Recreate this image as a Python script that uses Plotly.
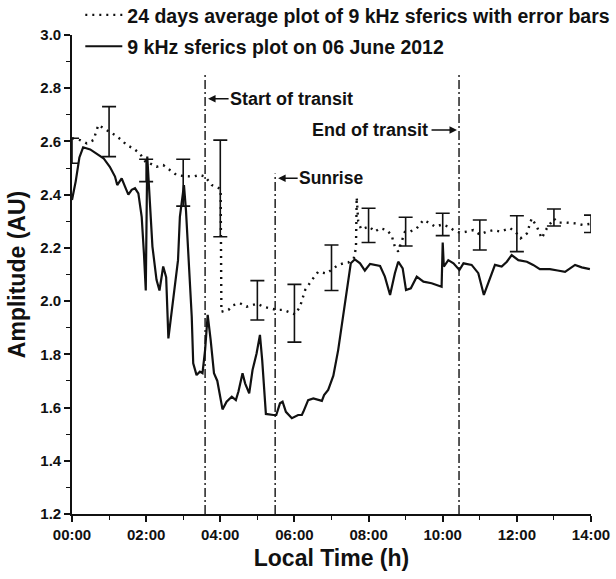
import plotly.graph_objects as go

# ---------------- data ----------------
# 9 kHz sferics on 06 June 2012 (solid line)
day_hours = [0.00, 0.10, 0.20, 0.30, 0.49, 0.67, 0.85, 1.02, 1.16, 1.22, 1.34, 1.43, 1.52, 1.61,
             1.70, 1.79, 1.88, 1.94, 1.99, 2.03, 2.085, 2.17, 2.28, 2.36, 2.46, 2.54, 2.60, 2.73,
             2.82, 2.86, 2.91, 3.02, 3.075, 3.14, 3.23, 3.27, 3.36, 3.45, 3.52, 3.59, 3.66, 3.74,
             3.83, 3.92, 3.99, 4.06, 4.17, 4.31, 4.42, 4.49, 4.60, 4.67, 4.78, 4.87, 4.98, 5.07,
             5.13, 5.18, 5.23, 5.43, 5.51, 5.61, 5.68, 5.77, 5.93, 6.10, 6.20, 6.24, 6.37, 6.51,
             6.64, 6.74, 6.80, 6.91, 6.96, 7.05, 7.18, 7.27, 7.36, 7.45, 7.52, 7.63, 7.77, 7.90,
             8.04, 8.31, 8.44, 8.58, 8.71, 8.80, 8.92, 9.01, 9.14, 9.30, 9.48, 9.70, 9.97, 10.00,
             10.03, 10.15, 10.29, 10.45, 10.56, 10.78, 10.96, 11.11, 11.28, 11.41, 11.59, 11.73,
             11.86, 12.04, 12.27, 12.44, 12.62, 12.89, 13.10, 13.30, 13.57, 13.75, 13.97]
day_amp = [2.38, 2.45, 2.54, 2.578, 2.57, 2.555, 2.537, 2.505, 2.468, 2.436, 2.461, 2.43, 2.40, 2.418,
           2.424, 2.405, 2.317, 2.18, 2.04, 2.543, 2.405, 2.205, 2.08, 2.04, 2.13, 2.09, 1.86, 2.017,
           2.105, 2.154, 2.317, 2.436, 2.34, 2.154, 1.941, 1.766, 1.722, 1.735, 1.729, 1.816, 1.948, 1.854,
           1.729, 1.70, 1.64, 1.593, 1.622, 1.641, 1.628, 1.66, 1.729, 1.691, 1.653, 1.741, 1.804, 1.873,
           1.779, 1.666, 1.576, 1.572, 1.572, 1.616, 1.622, 1.584, 1.56, 1.572, 1.572, 1.584, 1.628, 1.634,
           1.63, 1.625, 1.647, 1.666, 1.685, 1.72, 1.816, 1.904, 2.004, 2.092, 2.142, 2.157, 2.142, 2.115,
           2.14, 2.132, 2.092, 2.023, 2.105, 2.148, 2.123, 2.042, 2.048, 2.092, 2.073, 2.067, 2.054, 2.22,
           2.13, 2.154, 2.142, 2.117, 2.142, 2.136, 2.105, 2.023, 2.092, 2.136, 2.13, 2.148,
           2.173, 2.154, 2.148, 2.136, 2.12, 2.12, 2.115, 2.11, 2.136, 2.127, 2.12]

# 24 days average (dotted line)
avg_hours = [0.00, 0.22, 0.40, 0.58, 0.71, 0.85, 1.00, 1.16, 1.34, 1.47, 1.65, 1.83, 2.00, 2.10,
             2.28, 2.46, 2.64, 2.82, 3.00, 3.14, 3.27, 3.45, 3.59, 3.77, 3.90, 4.01, 4.03, 4.22,
             4.35, 4.53, 4.71, 5.00, 5.16, 5.34, 5.52, 5.70, 5.88, 6.02, 6.15, 6.29, 6.47, 6.64,
             6.87, 7.03, 7.18, 7.32, 7.45, 7.60, 7.66, 7.68, 7.72, 7.80, 8.02, 8.17, 8.31, 8.49,
             8.62, 8.71, 8.80, 8.98, 9.12, 9.30, 9.48, 9.66, 9.79, 10.00, 10.15, 10.29, 10.47, 10.65,
             10.83, 11.00, 11.19, 11.37, 11.55, 11.82, 12.00, 12.10, 12.27, 12.40, 12.54, 12.67, 12.81,
             13.00, 13.12, 13.34, 13.57, 13.79, 13.96]
avg_amp = [2.612, 2.605, 2.593, 2.605, 2.662, 2.649, 2.637, 2.624, 2.605, 2.587, 2.574, 2.555, 2.52, 2.518,
           2.505, 2.511, 2.493, 2.474, 2.47, 2.468, 2.468, 2.474, 2.468, 2.436, 2.43, 2.42, 1.96, 1.967,
           1.985, 1.992, 1.979, 1.99, 1.979, 1.973, 1.967, 1.967, 1.957, 1.95, 1.979, 2.042, 2.079, 2.11,
           2.104, 2.12, 2.136, 2.142, 2.145, 2.16, 2.20, 2.39, 2.30, 2.27, 2.28, 2.261, 2.274, 2.267,
           2.248, 2.204, 2.186, 2.26, 2.261, 2.274, 2.305, 2.292, 2.28, 2.288, 2.28, 2.267, 2.257, 2.261,
           2.267, 2.25, 2.261, 2.267, 2.261, 2.274, 2.254, 2.236, 2.254, 2.311, 2.28, 2.236, 2.274,
           2.31, 2.295, 2.295, 2.292, 2.286, 2.29]

# hourly error bars of the 24 days average
err_hours = [0, 1, 2, 3, 4, 5, 6, 7, 8, 9, 10, 11, 12, 13, 14]
err_low = [2.518, 2.543, 2.449, 2.357, 2.242, 1.929, 1.846, 2.040, 2.220, 2.207, 2.246, 2.192, 2.186, 2.282, 2.258]
err_high = [2.612, 2.731, 2.533, 2.533, 2.605, 2.077, 2.063, 2.211, 2.349, 2.315, 2.330, 2.305, 2.321, 2.346, 2.323]

# events (vertical dash-dot lines)
event_hours = [3.59, 5.48, 10.44]
event_tops = [2.86, 2.48, 2.86]
event_labels = ["Start of transit", "Sunrise", "End of transit"]
event_label_y = [2.76, 2.462, 2.643]

x_tick_vals = [0, 2, 4, 6, 8, 10, 12, 14]
x_tick_text = ["00:00", "02:00", "04:00", "06:00", "08:00", "10:00", "12:00", "14:00"]

legend_avg = "24 days average plot of 9 kHz sferics with error bars"
legend_day = "9 kHz sferics plot on 06 June 2012"

# ---------------- figure ----------------
FONT = "Liberation Sans, Arial, sans-serif"
INK = "#111111"

fig = go.Figure()

fig.add_trace(go.Scatter(
    x=avg_hours, y=avg_amp, mode="lines", name=legend_avg,
    line=dict(color=INK, width=2.4, dash="2px,5px"),
    legendgroup="a", legendrank=1,
))

err_center = [(lo + hi) / 2 for lo, hi in zip(err_low, err_high)]
fig.add_trace(go.Scatter(
    x=err_hours, y=err_center, mode="markers", showlegend=False,
    marker=dict(size=1, color="rgba(0,0,0,0)"),
    error_y=dict(type="data", symmetric=False,
                 array=[h - c for h, c in zip(err_high, err_center)],
                 arrayminus=[c - l for l, c in zip(err_low, err_center)],
                 color=INK, thickness=1.6, width=7),
    hoverinfo="skip",
))

fig.add_trace(go.Scatter(
    x=day_hours, y=day_amp, mode="lines", name=legend_day,
    line=dict(color=INK, width=2.2),
    legendgroup="b", legendrank=2,
))

for t, top in zip(event_hours, event_tops):
    fig.add_shape(type="line", xref="x", yref="y", x0=t, x1=t, y0=1.2, y1=top,
                  line=dict(color=INK, width=1.4, dash="9px,3px,2px,3px"))

ann_font = dict(family=FONT, size=18, color=INK, weight="bold")
# Start of transit (arrow pointing left)
fig.add_annotation(x=event_hours[0], y=event_label_y[0], xref="x", yref="y", text="",
                   showarrow=True, ax=22, ay=0, xshift=3, arrowhead=2, arrowsize=1,
                   arrowwidth=1.5, arrowcolor=INK)
fig.add_annotation(x=event_hours[0], y=event_label_y[0], xref="x", yref="y",
                   text=event_labels[0], showarrow=False, xanchor="left", xshift=23,
                   font=ann_font)
# Sunrise
fig.add_annotation(x=event_hours[1], y=event_label_y[1], xref="x", yref="y", text="",
                   showarrow=True, ax=21, ay=0, xshift=3, arrowhead=2, arrowsize=1,
                   arrowwidth=1.5, arrowcolor=INK)
fig.add_annotation(x=event_hours[1], y=event_label_y[1], xref="x", yref="y",
                   text=event_labels[1], showarrow=False, xanchor="left", xshift=22,
                   font=dict(family=FONT, size=17.5, color=INK, weight="bold"))
# End of transit (arrow pointing right)
fig.add_annotation(x=event_hours[2], y=event_label_y[2], xref="x", yref="y", text="",
                   showarrow=True, ax=-27, ay=0, xshift=-2, arrowhead=2, arrowsize=1,
                   arrowwidth=1.5, arrowcolor=INK)
fig.add_annotation(x=event_hours[2], y=event_label_y[2], xref="x", yref="y",
                   text=event_labels[2], showarrow=False, xanchor="right", xshift=-29,
                   font=ann_font)

axis_common = dict(
    showgrid=False, zeroline=False, showline=True, linecolor=INK, linewidth=1.6,
    ticks="outside", ticklen=6, tickwidth=1.6, tickcolor=INK,
    tickfont=dict(family=FONT, size=15, color=INK, weight="bold"),
    title_font=dict(family=FONT, size=23, color=INK, weight="bold"),
    mirror=False, automargin=False,
)

fig.update_xaxes(
    range=[0, 14], tickvals=x_tick_vals, ticktext=x_tick_text,
    title_text="Local Time (h)", title_standoff=8,
    minor=dict(dtick=1, ticklen=4, tickwidth=1.4, tickcolor=INK, ticks="outside"),
    **axis_common,
)
fig.update_yaxes(
    range=[1.2, 3.0], dtick=0.2, tick0=1.2, tickformat=".1f",
    title_text="Amplitude (AU)", title_standoff=8,
    minor=dict(dtick=0.1, ticklen=4, tickwidth=1.4, tickcolor=INK, ticks="outside"),
    **axis_common,
)

fig.update_layout(
    width=616, height=579, autosize=False,
    margin=dict(l=72, r=25, t=35, b=65, autoexpand=False),
    paper_bgcolor="white", plot_bgcolor="white",
    font=dict(family=FONT, color=INK, weight="bold"),
    showlegend=True,
    legend=dict(x=0.016, y=1.082, xanchor="left", yanchor="top",
                bgcolor="rgba(0,0,0,0)", borderwidth=0,
                font=dict(family=FONT, size=19.5, color=INK, weight="bold"),
                tracegroupgap=3, itemwidth=37, traceorder="grouped"),
)

fig.write_html("out.html", config={"displayModeBar": False},
               post_script="document.body.style.margin='0px';")
